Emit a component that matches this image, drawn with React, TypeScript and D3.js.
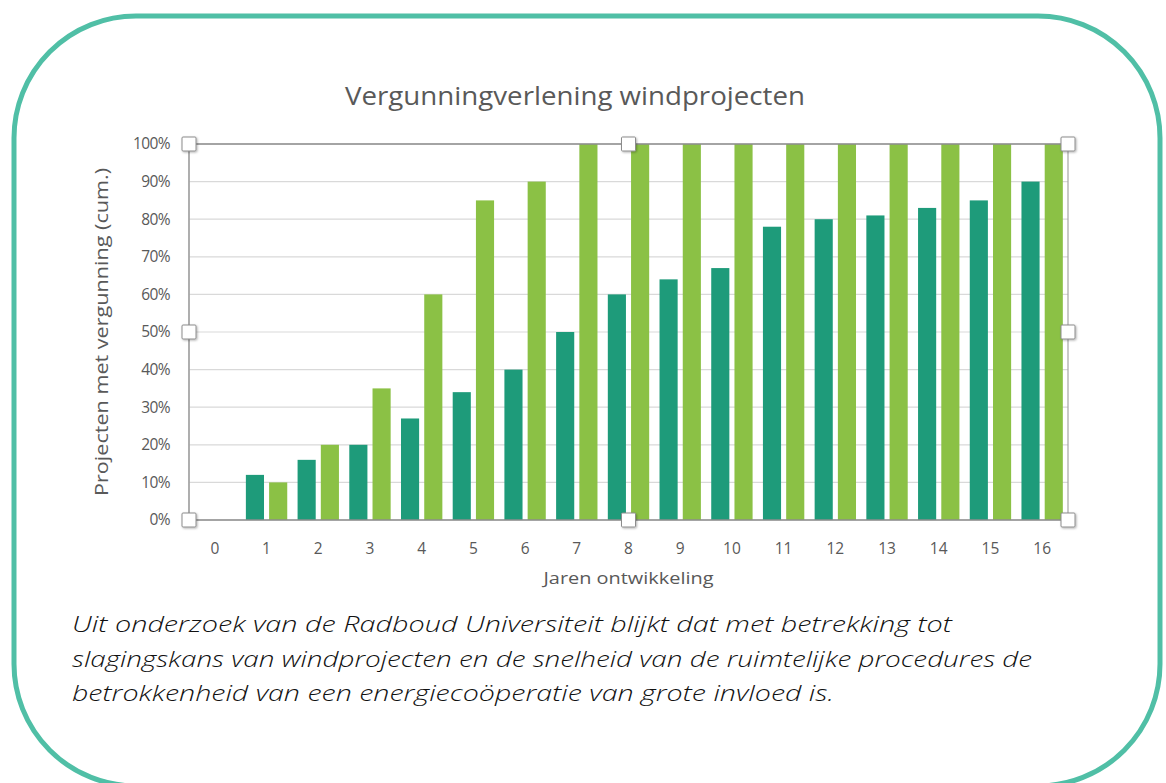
import React from "react";
import * as d3 from "d3";

// jaren ontwikkeling (0..16)
const years = ["0", "1", "2", "3", "4", "5", "6", "7", "8", "9", "10", "11", "12", "13", "14", "15", "16"];
// donkergroen: projecten zonder coöperatie (cum.)
const seriesDark = [0, 12, 16, 20, 27, 34, 40, 50, 60, 64, 67, 78, 80, 81, 83, 85, 90];
// lichtgroen: projecten met coöperatie (cum.)
const seriesLight = [0, 10, 20, 35, 60, 85, 90, 100, 100, 100, 100, 100, 100, 100, 100, 100, 100];
const yTicks = [0, 10, 20, 30, 40, 50, 60, 70, 80, 90, 100];
const captionLines = [
  "Uit onderzoek van de Radboud Universiteit blijkt dat met betrekking tot",
  "slagingskans van windprojecten en de snelheid van de ruimtelijke procedures de",
  "betrokkenheid van een energiecoöperatie van grote invloed is.",
];
const captionWidths = [880, 960, 762];

const W = 1166;
const H = 783;
const margin = { top: 144, right: 98, bottom: 263, left: 189 };
const font = "'Open Sans', 'Noto Sans', sans-serif";

const App = () => {
  const plotW = W - margin.left - margin.right;
  const plotH = H - margin.top - margin.bottom;

  const x0 = d3.scaleBand().domain(years).range([0, plotW]).paddingInner(0.2).paddingOuter(0.1);
  const x1 = d3.scaleBand().domain(["dark", "light"]).range([0, x0.bandwidth()]).paddingInner(0.22);
  const y = d3.scaleLinear().domain([0, 100]).range([plotH, 0]);

  const series = [
    { key: "dark", values: seriesDark, color: "#1e9b7a" },
    { key: "light", values: seriesLight, color: "#8bc145" },
  ];

  // selection handles around the plot area
  const handles: [number, number][] = [];
  [0, plotW / 2, plotW].forEach((hx, i) =>
    [y(100), y(50), y(0)].forEach((hy, j) => {
      if (i === 1 && j === 1) return;
      handles.push([hx, hy]);
    })
  );

  return (
    <div style={{ position: "absolute", left: 0, top: 0 }}>
      <svg width={W} height={H} style={{ display: "block", background: "#fff" }}>
        <defs>
          <filter id="shadow" x="-30%" y="-30%" width="160%" height="160%">
            <feDropShadow dx={1} dy={1} stdDeviation={0.8} floodColor="#000" floodOpacity={0.3} />
          </filter>
        </defs>
        <rect x={14} y={16} width={1146} height={770} rx={122} ry={122} fill="none" stroke="#50bfa6" strokeWidth={5} />

        <text
          x={575}
          y={98}
          textAnchor="middle"
          dominantBaseline="middle"
          fontFamily={font}
          fontSize={26}
          fill="#595959"
          textLength={460}
          lengthAdjust="spacingAndGlyphs"
        >
          Vergunningverlening windprojecten
        </text>

        <g transform={`translate(${margin.left},${margin.top})`}>
          {yTicks.map((t) => (
            <line key={t} x1={0} x2={plotW} y1={y(t)} y2={y(t)} stroke="#d9d9d9" strokeWidth={1.2} />
          ))}

          {series.map((s) =>
            s.values.map((v, i) => (
              <rect
                key={s.key + i}
                x={(x0(years[i]) ?? 0) + (x1(s.key) ?? 0)}
                y={y(v)}
                width={x1.bandwidth()}
                height={plotH - y(v)}
                fill={s.color}
              />
            ))
          )}

          {/* plot area frame */}
          <line x1={0} x2={plotW} y1={y(100)} y2={y(100)} stroke="#8c8c8c" strokeWidth={1.5} />
          <line x1={0} x2={plotW} y1={y(0)} y2={y(0)} stroke="#8c8c8c" strokeWidth={1.5} />
          <line x1={0} x2={0} y1={0} y2={plotH} stroke="#a6a6a6" strokeWidth={1.8} />
          <line x1={plotW} x2={plotW} y1={0} y2={plotH} stroke="#a6a6a6" strokeWidth={1.2} />

          {yTicks.map((t) => (
            <text key={t} x={-19} y={y(t)} dy="0.35em" textAnchor="end" fontFamily={font} fontSize={15.5} fill="#595959" letterSpacing={-0.6}>
              {t}%
            </text>
          ))}

          {years.map((yr) => (
            <text
              key={yr}
              x={(x0(yr) ?? 0) + x0.bandwidth() / 2}
              y={plotH + 34}
              textAnchor="middle"
              fontFamily={font}
              fontSize={15.5}
              fill="#595959"
            >
              {yr}
            </text>
          ))}

          <text
            x={plotW / 2}
            y={plotH + 64}
            textAnchor="middle"
            fontFamily={font}
            fontSize={17}
            fill="#595959"
            textLength={170}
            lengthAdjust="spacingAndGlyphs"
          >
            Jaren ontwikkeling
          </text>

          <text
            transform={`translate(${-81},${plotH / 2}) rotate(-90)`}
            textAnchor="middle"
            fontFamily={font}
            fontSize={18}
            fill="#595959"
            textLength={328}
            lengthAdjust="spacingAndGlyphs"
          >
            Projecten met vergunning (cum.)
          </text>

          {handles.map(([hx, hy], i) => (
            <rect
              key={i}
              x={hx - 7}
              y={hy - 7}
              width={14}
              height={14}
              fill="#fff"
              stroke="#8c8c8c"
              strokeWidth={1}
              rx={1}
              filter="url(#shadow)"
            />
          ))}
        </g>

        {captionLines.map((line, i) => (
          <text
            key={i}
            x={72}
            y={632 + i * 34.5}
            fontFamily={font}
            fontStyle="italic"
            fontWeight={300}
            fontSize={22.5}
            fill="#111"
            textLength={captionWidths[i]}
            lengthAdjust="spacingAndGlyphs"
          >
            {line}
          </text>
        ))}
      </svg>
    </div>
  );
};

export default App;
